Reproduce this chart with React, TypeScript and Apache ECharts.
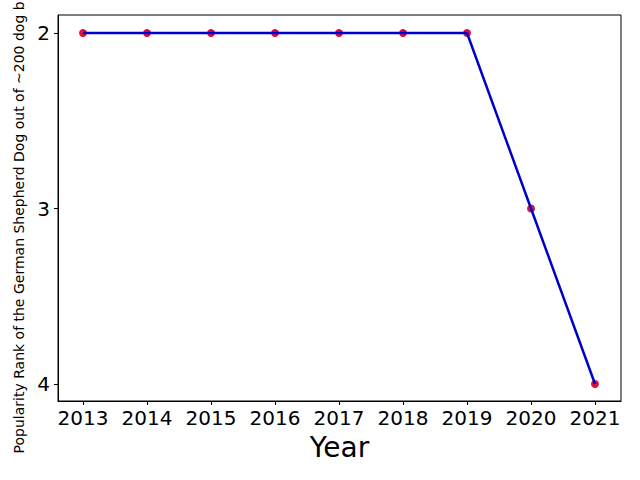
import React, { useEffect, useRef } from "react";
import * as echarts from "echarts";

const years = [2013, 2014, 2015, 2016, 2017, 2018, 2019, 2020, 2021];
const ranks = [2, 2, 2, 2, 2, 2, 2, 3, 4];
const yTicks = [2, 3, 4];
const yName = "Popularity Rank of the German Shepherd Dog out of ~200 dog breeds";
const xName = "Year";

export default function App() {
  const ref = useRef<HTMLDivElement>(null);
  useEffect(() => {
    document.body.style.margin = "0";
    const chart = echarts.init(ref.current!, null, { renderer: "svg" });
    const pts = years.map((y, i) => [y, ranks[i]]);
    const font = "DejaVu Sans";
    chart.setOption({
      animation: false,
      backgroundColor: "#ffffff",
      textStyle: { fontFamily: font },
      grid: {
        left: 58,
        right: 19,
        top: 15,
        bottom: 79,
        containLabel: false,
        outerBoundsMode: "none",
        show: true,
        borderColor: "#000",
        borderWidth: 1,
        backgroundColor: "transparent",
      },
      xAxis: {
        type: "value",
        min: 2012.609,
        max: 2021.406,
        name: xName,
        nameLocation: "middle",
        nameGap: 32,
        nameTextStyle: { fontSize: 28, color: "#000", fontFamily: font },
        axisLine: { show: true, onZero: false, lineStyle: { color: "#000", width: 1 } },
        axisTick: { show: true, length: 4, lineStyle: { color: "#000" }, customValues: years },
        axisLabel: { fontSize: 20, color: "#000", margin: 7, customValues: years, formatter: (v: number) => String(v) },
        splitLine: { show: false },
      },
      yAxis: {
        type: "value",
        inverse: true,
        min: 1.8974,
        max: 4.0969,
        name: yName,
        nameLocation: "middle",
        nameGap: 31,
        nameRotate: 90,
        nameTextStyle: { fontSize: 14, color: "#000", fontFamily: font },
        axisLine: { show: true, onZero: false, lineStyle: { color: "#000", width: 1 } },
        axisTick: { show: true, length: 4, lineStyle: { color: "#000" }, customValues: yTicks },
        axisLabel: { fontSize: 20, color: "#000", margin: 8, customValues: yTicks, formatter: (v: number) => String(v) },
        splitLine: { show: false },
      },
      series: [
        {
          type: "scatter",
          data: pts,
          symbol: "circle",
          symbolSize: 8,
          itemStyle: { color: "#d7143c", opacity: 1 },
          z: 2,
        },
        {
          type: "line",
          data: pts,
          showSymbol: false,
          symbol: "none",
          lineStyle: { color: "#0000cd", width: 2.5 },
          z: 3,
        },
      ],
    });
    return () => chart.dispose();
  }, []);
  return <div ref={ref} style={{ width: 640, height: 480 }} />;
}
